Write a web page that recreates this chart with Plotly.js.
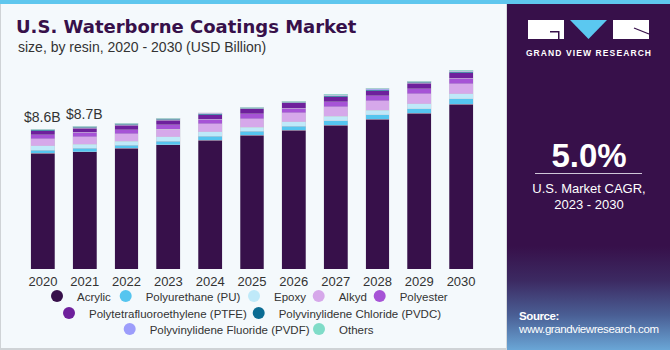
<!DOCTYPE html>
<html>
<head>
<meta charset="utf-8">
<script src="https://cdn.plot.ly/plotly-3.0.1.min.js"></script>
<style>
  html, body { margin:0; padding:0; }
  body { width:670px; height:350px; position:relative; overflow:hidden; font-family:"Liberation Sans", Arial, sans-serif; }
  #bg { position:absolute; left:0; top:0; width:669px; height:348px; background:#f4f9fc; border-left:1px solid #cfd3d6; border-bottom:2px solid #cfd3d6; }
  #strip { position:absolute; left:0; top:0; width:670px; height:4px; background:#5fc7ee; z-index:3; }
  #chart { position:absolute; left:0; top:0; width:670px; height:350px; z-index:1; }
  #panel { position:absolute; left:506px; top:4px; width:164px; height:346px; z-index:2;
    border-left:1px solid #d6dadd;
    background: linear-gradient(to bottom, #37104a 0%, #37104a 70%, #3c2a62 80%, #4a5f95 90%, #6aa6d6 100%); color:#fff; }
  #panel .gvr { position:absolute; left:0; width:164px; top:44px; text-align:center; font-weight:bold; font-size:8.5px; letter-spacing:1.1px; }
  #panel .big { position:absolute; left:0; width:164px; top:135px; text-align:center; font-weight:bold; font-size:33px; line-height:34px; }
  #panel .rule { position:absolute; left:28px; width:107px; top:169px; height:1px; background:#cfc6d8; }
  #panel .cagr { position:absolute; left:0; width:164px; top:177px; text-align:center; font-size:13px; line-height:16px; }
  #panel .src { position:absolute; left:12px; top:306px; font-size:11.5px; line-height:13px; letter-spacing:-0.4px; }
</style>
</head>
<body>
<div id="bg"></div>
<div id="chart"></div>
<div id="strip"></div>
<div id="panel">
  <svg width="164" height="40" style="position:absolute;left:0;top:0">
    <rect x="21" y="16" width="36" height="19" fill="#ffffff"/>
    <rect x="43" y="27" width="9" height="1.5" fill="#37104a"/>
    <rect x="51" y="27" width="1.5" height="8" fill="#37104a"/>
    <polygon points="63,16 100,16 81.5,35" fill="#5bc8f0"/>
    <rect x="106" y="16" width="36" height="19" fill="#ffffff"/>
    <line x1="127" y1="24" x2="142" y2="30" stroke="#37104a" stroke-width="1.2"/>
  </svg>
  <div class="gvr">GRAND VIEW RESEARCH</div>
  <div class="big">5.0%</div>
  <div class="rule"></div>
  <div class="cagr">U.S. Market CAGR,<br>2023 - 2030</div>
  <div class="src"><b>Source:</b><br>www.grandviewresearch.com</div>
</div>
<script>
// ---- data (USD Billion) ----
const years = ['2020','2021','2022','2023','2024','2025','2026','2027','2028','2029','2030'];
const acrylic      = [7.11, 7.20, 7.41, 7.64, 7.92, 8.21, 8.52, 8.83, 9.20, 9.56, 10.12];
const polyurethane = [0.20, 0.21, 0.20, 0.22, 0.23, 0.24, 0.25, 0.27, 0.28, 0.30, 0.33];
const epoxy        = [0.25, 0.26, 0.25, 0.26, 0.27, 0.27, 0.28, 0.29, 0.28, 0.30, 0.31];
const alkyd        = [0.43, 0.46, 0.45, 0.47, 0.49, 0.52, 0.54, 0.57, 0.57, 0.60, 0.62];
const polyester    = [0.25, 0.27, 0.26, 0.27, 0.28, 0.29, 0.30, 0.31, 0.31, 0.32, 0.33];
const ptfe         = [0.25, 0.26, 0.26, 0.28, 0.29, 0.30, 0.31, 0.32, 0.32, 0.33, 0.35];
const pvdc         = [0.05, 0.05, 0.05, 0.05, 0.05, 0.05, 0.05, 0.06, 0.06, 0.06, 0.06];
const pvdf         = [0.03, 0.04, 0.04, 0.04, 0.04, 0.04, 0.04, 0.04, 0.04, 0.04, 0.04];
const others       = [0.03, 0.03, 0.03, 0.03, 0.03, 0.03, 0.03, 0.04, 0.04, 0.04, 0.04];
const seriesNames  = ['Acrylic','Polyurethane (PU)','Epoxy','Alkyd','Polyester',
                      'Polytetrafluoroethylene (PTFE)','Polyvinylidene Chloride (PVDC)',
                      'Polyvinylidene Fluoride (PVDF)','Others'];
const labelYears   = ['2020','2021'];
const labelTexts   = ['$8.6B','$8.7B'];

// ---- styles & layout ----
const seriesValues = [acrylic, polyurethane, epoxy, alkyd, polyester, ptfe, pvdc, pvdf, others];
const colors = ['#37104a','#55c5ef','#bfe9f9','#d6a8ea','#a653d6','#6e209c','#0b6c93','#9c9dfb','#7fdcc8'];
// legend entry positions in pixels: [text start x, row centre y]
const legendPos = [[75,296],[143.7,296],[272,296],[336.7,296],[397.7,296],
                   [87,313],[276.7,313],
                   [147.7,329],[337,329]];

const M = {l:22, r:188, t:60, b:81, autoexpand:false};
const PW = 670 - M.l - M.r, PH = 350 - M.t - M.b;
const px2x = p => (p - M.l) / PW;
const px2y = p => (M.t + PH - p) / PH;
const FONT = '"Liberation Sans", Arial, sans-serif';

const traces = [];
seriesValues.forEach((vals, i) => {
  traces.push({
    type:'bar', x: years, y: vals, name: seriesNames[i], showlegend:false,
    marker:{color: colors[i], line:{color:'rgba(200,200,212,0.7)', width:0.5}},
    hoverinfo:'skip'
  });
});
const layout = {
  width:670, height:350, margin:M,
  paper_bgcolor:'rgba(0,0,0,0)', plot_bgcolor:'rgba(0,0,0,0)',
  barmode:'stack', bargap:0.43,
  title:{text:'<b>U.S. Waterborne Coatings Market</b>', xref:'container', yref:'container',
         x:16/670, xanchor:'left', y:1 - 27/350, yanchor:'middle', automargin:false,
         font:{family:'"DejaVu Sans", sans-serif', size:18, color:'#37104a'}},
  xaxis:{type:'category', categoryorder:'array', categoryarray: years, range:[-0.5, 10.5],
         showgrid:false, zeroline:false, showline:false, ticks:'', ticklabelstandoff:3,
         automargin:false,
         tickfont:{family:FONT, size:13, color:'#333333'}, fixedrange:true},
  yaxis:{range:[0, 12.84], visible:false, showgrid:false, zeroline:false, fixedrange:true},
  xaxis2:{overlaying:'x', anchor:'y2', visible:false, range:[0,1]},
  yaxis2:{overlaying:'y', anchor:'x2', visible:false, range:[0,1]},
  showlegend:true
};
// one legend per entry so each sits where the reference shows it
seriesValues.forEach((vals, i) => {
  const key = i === 0 ? 'legend' : 'legend' + (i + 1);
  traces.push({
    type:'scatter', mode:'markers', x:[null], y:[null], xaxis:'x2', yaxis:'y2',
    name: seriesNames[i], legend: key, showlegend:true, hoverinfo:'skip',
    marker:{color: colors[i], size:9, symbol:'circle'}
  });
  layout[key] = {
    orientation:'h', xanchor:'left', yanchor:'middle',
    x: px2x(legendPos[i][0] - 38), y: px2y(legendPos[i][1]),
    bgcolor:'rgba(0,0,0,0)', borderwidth:0,
    font:{family:FONT, size:11.5, color:'#333333'},
    itemwidth:30, itemsizing:'constant'
  };
});

const totals = years.map((_, j) => seriesValues.reduce((s, v) => s + v[j], 0));
const annotations = labelYears.map((yr, k) => ({
  x: years.indexOf(yr), y: totals[years.indexOf(yr)], xref:'x', yref:'y',
  text: labelTexts[k], showarrow:false, yanchor:'bottom', yshift:2,
  font:{family:FONT, size:14, color:'#333333'}
}));
annotations.push({
  xref:'paper', yref:'paper', x: px2x(16), y: px2y(47), xanchor:'left', yanchor:'middle',
  text:'size, by resin, 2020 - 2030 (USD Billion)', showarrow:false,
  font:{family:FONT, size:14, color:'#333333'}
});
layout.annotations = annotations;

Plotly.newPlot('chart', traces, layout, {displayModeBar:false, staticPlot:true});
</script>
</body>
</html>
